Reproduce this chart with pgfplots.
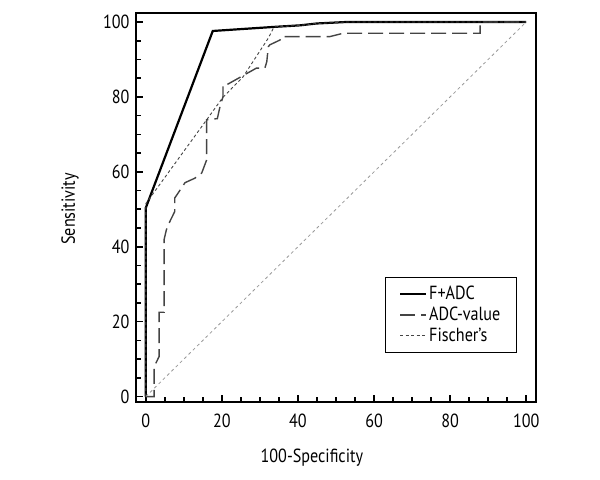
\documentclass[border=0pt]{standalone}
\usepackage{fontspec}
\setmainfont{PT Sans}[FakeStretch=0.85]
\usepackage{pgfplots}
\pgfplotsset{compat=1.18}
\definecolor{adcgray}{HTML}{444444}
\definecolor{fisgray}{HTML}{444444}
\definecolor{diaggray}{HTML}{999999}
\begin{document}
\begin{tikzpicture}
\begin{axis}[
  scale only axis,
  width=400pt, height=389pt,
  xmin=-2.6, xmax=102.5,
  ymin=-1.4, ymax=102.4,
  xtick={0,20,...,100}, ytick={0,20,...,100},
  minor x tick num=3, minor y tick num=3,
  tick align=inside,
  xtick pos=bottom, ytick pos=left,
  axis line style={line width=2.4pt},
  major tick length=7pt, minor tick length=5pt,
  every tick/.style={black, line width=1.6pt},
  /pgf/number format/assume math mode=true,
  ticklabel style={font=\fontsize{19}{22}\selectfont},
  xticklabel style={yshift=-9pt},
  yticklabel style={xshift=-3pt},
  label style={font=\fontsize{19}{22}\selectfont},
  xlabel={100-Specificity},
  ylabel={Sensitivity},
  xlabel style={at={(axis description cs:0.44,-0.143)}, anchor=center},
  ylabel style={at={(axis description cs:-0.165,0.496)}, anchor=center, rotate=0},
  legend style={at={(axis description cs:0.9525,0.321)}, anchor=north east,
    draw=black, line width=0.8pt, font=\fontsize{19}{22}\selectfont,
    inner xsep=14pt, inner ysep=7pt, row sep=2pt,
    cells={anchor=west}},
  legend image code/.code={\draw[#1] (0pt,0pt) -- (26pt,0pt);},
  clip=false,
]
\addplot[black, line width=2.2pt] coordinates {
  (0,0) (0,50.4) (17.6,97.6) (33.9,98.7) (40.5,99.1) (44.9,99.6) (52.8,100) (100,100)};
\addlegendentry{F+ADC}
\addplot[adcgray, line width=1.4pt, dash pattern=on 15pt off 6pt] coordinates {
  (0,0) (2.2,0) (2.2,8) (3.5,10.7) (3.5,22.5) (4.8,22.5) (4.8,41.9) (5.4,44.5)
  (6.3,46.7) (7.6,49.4) (7.6,53) (10.3,57.1) (12.9,58.3) (14.7,59.7) (16,63.2)
  (16,73.9) (18.8,74.2) (19.5,77.4) (20.3,80.1) (20.3,83.2) (21.2,83.2)
  (29.1,87.7) (31.3,87.7) (31.8,89.4) (32.2,93.4) (32.6,93.9) (35.3,95.2)
  (35.7,96.1) (48.4,96.1) (51.9,97) (87.9,97) (87.9,99.5) (87.9,100) (100,100)};
\addlegendentry{ADC-value}
\addplot[fisgray, line width=0.9pt, dash pattern=on 3pt off 2.5pt] coordinates {
  (0,0) (0,51.5) (16,73.9) (20.2,79.8) (25.6,85.4) (32.2,95.7) (33.5,98.3)
  (33.9,98.7) (40.5,99.1) (44.9,99.6) (52.8,100) (100,100)};
\addlegendentry{Fischer’s}
\addplot[diaggray, line width=0.8pt, dash pattern=on 3pt off 3pt, forget plot] coordinates {
  (0,0) (100,100)};
\end{axis}
\pgfresetboundingbox
\path[use as bounding box] (current axis.south west) ++(-136pt,-78pt) rectangle ([xshift=64.3pt,yshift=13pt]current axis.north east);
\end{tikzpicture}
\end{document}
